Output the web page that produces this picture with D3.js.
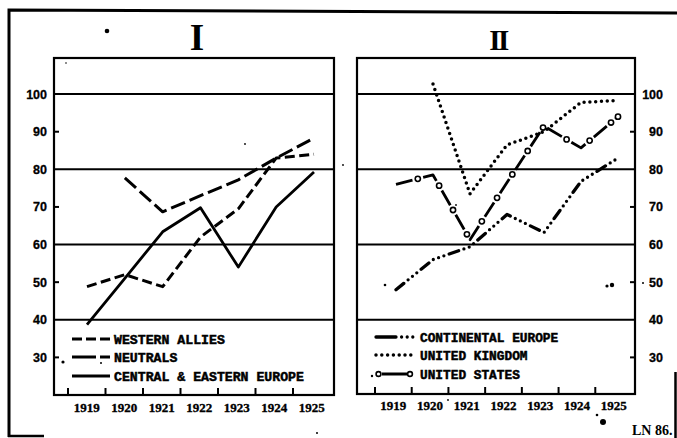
<!DOCTYPE html>
<html>
<head>
<meta charset="utf-8">
<script src="https://cdn.jsdelivr.net/npm/d3@7"></script>
<style>
html,body{margin:0;padding:0;background:#fff;}
svg{display:block;}
</style>
</head>
<body>
<svg id="chart" width="677" height="438"></svg>
<script>
// ---- data (index values) ----
const years = [1919, 1920, 1921, 1922, 1923, 1924, 1925];
const yTickLabels = [100, 90, 80, 70, 60, 50, 40, 30];
const gridValues = [100, 80, 60, 40];
const minorTickValues = [90, 70, 50, 30];

// Panel I
const westernAllies  = [48.8, 52, 48.8, 62, 69.5, 83, 84];
const neutrals       = [null, 77.7, 68.7, 73, 77.2, 83, 88.3];
const centralEastern = [38.7, 51, 63.4, 69.8, 54, 70, 79.3];
// Panel II
const continentalEurope = [48, 56, 59.4, 68, 63.2, 76.8, 83];
const unitedKingdom     = [null, 102.7, 73.5, 86.5, 90, 97.8, 98.3];
const unitedStates      = [76, 78.5, 61.3, 76.5, 91.5, 85.7, 94];

const legendI  = ["WESTERN ALLIES", "NEUTRALS", "CENTRAL & EASTERN EUROPE"];
const legendII = ["CONTINENTAL EUROPE", "UNITED KINGDOM", "UNITED STATES"];

// ---- drawing ----
const svg = d3.select("#chart");
const ink = "#000";

const y = d3.scaleLinear().domain([20, 109.6]).range([395, 58]);

const panels = [
  {title: "I", titleX: 197, titleSize: 37, box: [54, 334, 58, 395],
   band: [68, 330.5], pts: [87, 314], labelsSide: "left", labelX: 47, labelY: 412},
  {title: "II", titleX: 498, titleSize: 29, box: [357, 635, 58, 394],
   band: [375, 632], pts: [396, 618], labelsSide: "right", labelX: 663, labelY: 410}
];

// outer frame
svg.append("path")
  .attr("d", "M9,437 L9,10 L677,13")
  .attr("fill", "none").attr("stroke", ink).attr("stroke-width", 3);
svg.append("line").attr("x1", 8).attr("x2", 44).attr("y1", 436).attr("y2", 436)
  .attr("stroke", ink).attr("stroke-width", 2.5);
svg.append("line").attr("x1", 675.5).attr("x2", 675.5).attr("y1", 372).attr("y2", 438)
  .attr("stroke", ink).attr("stroke-width", 2.5);

panels.forEach(p => {
  const g = svg.append("g");
  const [x0, x1, yTop, yBot] = p.box;
  const band = d3.scaleBand().domain(years).range(p.band);
  p.x = d3.scalePoint().domain(years).range(p.pts);

  // title
  g.append("text").attr("x", p.titleX).attr("y", 50)
    .attr("text-anchor", "middle")
    .attr("font-family", "Liberation Serif, serif").attr("font-weight", "bold")
    .attr("font-size", p.titleSize)
    .attr("letter-spacing", p.title === "II" ? -2.5 : 0)
    .text(p.title);

  // grid lines
  g.selectAll(".grid").data(gridValues).join("line")
    .attr("x1", x0).attr("x2", x1)
    .attr("y1", d => y(d)).attr("y2", d => y(d))
    .attr("stroke", ink).attr("stroke-width", 2);

  // minor y ticks (inward)
  const tx = p.labelsSide === "left" ? x0 : x1;
  const dir = p.labelsSide === "left" ? 1 : -1;
  g.selectAll(".ytick").data(minorTickValues).join("line")
    .attr("x1", tx).attr("x2", tx + dir * 5)
    .attr("y1", d => y(d)).attr("y2", d => y(d))
    .attr("stroke", ink).attr("stroke-width", 2);

  // y labels
  g.selectAll(".ylab").data(yTickLabels).join("text")
    .attr("x", p.labelX).attr("y", d => y(d) + 4.5)
    .attr("text-anchor", "end")
    .attr("font-family", "Liberation Sans, Arial, sans-serif").attr("font-weight", "bold")
    .attr("font-size", 12.5)
    .attr("stroke", ink).attr("stroke-width", 0.3)
    .text(d => d);

  // x ticks at year boundaries (inward)
  g.selectAll(".xtick").data(years).join("line")
    .attr("x1", d => band(d)).attr("x2", d => band(d))
    .attr("y1", yBot).attr("y2", yBot - 7)
    .attr("stroke", ink).attr("stroke-width", 2);

  // x labels
  g.selectAll(".xlab").data(years).join("text")
    .attr("x", d => band(d) + band.bandwidth() / 2)
    .attr("y", p.labelY)
    .attr("text-anchor", "middle")
    .attr("font-family", "Liberation Serif, serif").attr("font-weight", "bold")
    .attr("font-size", 13)
    .attr("stroke", ink).attr("stroke-width", 0.35)
    .text(d => d);

  // box
  g.append("rect").attr("x", x0).attr("y", yTop)
    .attr("width", x1 - x0).attr("height", yBot - yTop)
    .attr("fill", "none").attr("stroke", ink).attr("stroke-width", 2.2);
});

function lineFor(p, values) {
  return d3.line()
    .defined(d => d.v != null)
    .x(d => p.x(d.year))
    .y(d => y(d.v))(years.map((yr, i) => ({year: yr, v: values[i]})));
}

function drawSeries(p, values, dash, width, cap) {
  return svg.append("path")
    .attr("d", lineFor(p, values))
    .attr("fill", "none").attr("stroke", ink)
    .attr("stroke-width", width)
    .attr("stroke-linejoin", "round")
    .attr("stroke-linecap", cap || "butt")
    .attr("stroke-dasharray", dash);
}

const P1 = panels[0], P2 = panels[1];
drawSeries(P1, centralEastern, null, 2.8);
drawSeries(P1, westernAllies, "10 4.5", 3);
drawSeries(P1, neutrals, "15 5", 3);

drawSeries(P2, continentalEurope, "10 5.6 0 5.6 0 5.6 0 5.6", 3.3, "round");
drawSeries(P2, unitedKingdom, "0 5.8", 3.5, "round");
const us = drawSeries(P2, unitedStates, "17 11", 2.8);
const usNode = us.node();
const usLen = usNode.getTotalLength();
const usCircles = [];
for (let s = 22.5; s < usLen - 2; s += 28) usCircles.push(usNode.getPointAtLength(s));
usCircles.push(usNode.getPointAtLength(usLen));
svg.selectAll(".usc").data(usCircles).join("circle")
  .attr("cx", d => d.x).attr("cy", d => d.y).attr("r", 2.6)
  .attr("fill", "#fff").attr("stroke", ink).attr("stroke-width", 1.6);

// legends
const legFont = "Liberation Mono, Courier New, monospace";
const legI = [
  {y: 339, dash: "10 4"},
  {y: 357, dash: "24 4 10 4"},
  {y: 376, dash: null}
];
legI.forEach((l, i) => {
  svg.append("line").attr("x1", 72).attr("x2", 110).attr("y1", l.y).attr("y2", l.y)
    .attr("stroke", ink).attr("stroke-width", 3).attr("stroke-dasharray", l.dash);
  svg.append("text").attr("x", 114).attr("y", l.y + 4.5)
    .attr("font-family", legFont).attr("font-weight", "bold").attr("font-size", 13.2)
    .attr("stroke", ink).attr("stroke-width", 0.5)
    .text(legendI[i]);
});
const legII = [
  {y: 337, dash: "20 5.6 0 5.6 0 5.6 0 20", cap: "round", w: 3.3},
  {y: 355, dash: "0 5.8", cap: "round", w: 3.5},
  {y: 374, dash: null, w: 3}
];
legII.forEach((l, i) => {
  if (i === 2) {
    svg.append("line").attr("x1", 382).attr("x2", 407).attr("y1", l.y).attr("y2", l.y)
      .attr("stroke", ink).attr("stroke-width", l.w);
    svg.selectAll(".lgc").data([378.5, 410]).join("circle")
      .attr("cx", d => d).attr("cy", l.y).attr("r", 2.4)
      .attr("fill", "#fff").attr("stroke", ink).attr("stroke-width", 1.6);
    svg.append("circle").attr("cx", 372).attr("cy", l.y + 2).attr("r", 1.2).attr("fill", ink);
  } else {
    svg.append("line").attr("x1", 376).attr("x2", 416).attr("y1", l.y).attr("y2", l.y)
      .attr("stroke", ink).attr("stroke-width", l.w)
      .attr("stroke-linecap", l.cap).attr("stroke-dasharray", l.dash);
  }
  svg.append("text").attr("x", 420).attr("y", l.y + 4.5)
    .attr("font-family", legFont).attr("font-weight", "bold").attr("font-size", 12.8)
    .attr("stroke", ink).attr("stroke-width", 0.5)
    .text(legendII[i]);
});

// catalogue number
svg.append("text").attr("x", 632).attr("y", 435)
  .attr("font-family", "Liberation Serif, serif").attr("font-weight", "bold")
  .attr("font-size", 14).text("LN 86.");

// scan specks
const specks = [[107, 31, 2.3], [63, 362, 1.6], [101, 363, 1], [385, 285, 1.3], [612, 285, 2.2],
  [607, 286, 1.6], [597, 415, 1.3], [603, 422, 3], [643, 283, 1], [317, 433, 1], [245, 144, 0.9],
  [343, 165, 0.9], [456, 205, 0.9], [448, 400, 0.9], [66, 63, 0.8]];
svg.selectAll(".speck").data(specks).join("circle")
  .attr("cx", d => d[0]).attr("cy", d => d[1]).attr("r", d => d[2]).attr("fill", ink);
</script>
</body>
</html>
